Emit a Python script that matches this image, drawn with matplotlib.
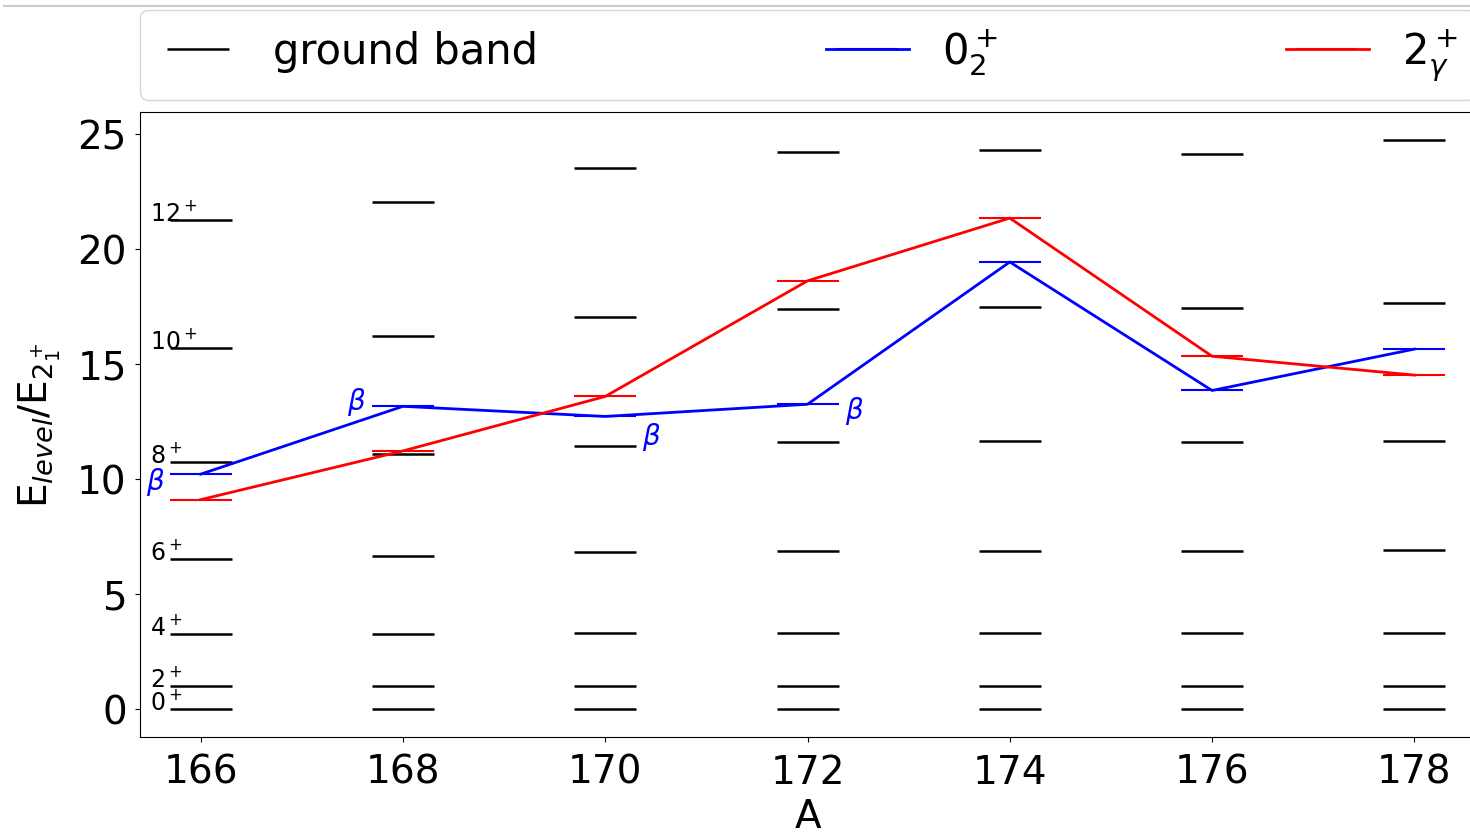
import matplotlib
matplotlib.use("Agg")
import matplotlib.pyplot as plt
from matplotlib.lines import Line2D

# Mass numbers of the isotopic chain
mass_numbers = [166, 168, 170, 172, 174, 176, 178]

# Spin labels of the ground-band members
spins = ["0", "2", "4", "6", "8", "10", "12"]

# Ground-band level energies, normalised to E(2+_1), one list per isotope
ground_166 = [0.0, 1.0, 3.23, 6.51, 10.72, 15.67, 21.24]
ground_168 = [0.0, 1.0, 3.25, 6.66, 11.08, 16.23, 22.04]
ground_170 = [0.0, 1.0, 3.28, 6.80, 11.41, 17.04, 23.54]
ground_172 = [0.0, 1.0, 3.30, 6.85, 11.58, 17.39, 24.21]
ground_174 = [0.0, 1.0, 3.30, 6.86, 11.63, 17.46, 24.32]
ground_176 = [0.0, 1.0, 3.30, 6.86, 11.61, 17.41, 24.14]
ground_178 = [0.0, 1.0, 3.30, 6.88, 11.66, 17.64, 24.72]
ground_band = [ground_166, ground_168, ground_170, ground_172,
               ground_174, ground_176, ground_178]

# Second 0+ and gamma-band head energies
zero_2 = [10.20, 13.15, 12.71, 13.24, 19.43, 13.84, 15.64]
two_gamma = [9.09, 11.21, 13.58, 18.61, 21.34, 15.33, 14.51]

# Isotopes whose 0+_2 state is tagged as a beta vibration
beta_tagged = [166, 168, 170, 172]

plt.rcParams["font.family"] = "DejaVu Sans"

fig = plt.figure(figsize=(14.7, 8.37), dpi=100)
# the axes reach just past the right edge of the canvas
ax = fig.add_axes([140 / 1470, 99 / 837, 1335 / 1470, 625 / 837])
ax.spines["right"].set_visible(False)

bar_ms = 44  # level bar width in points

# ground band: one short bar per level
for i, (a, levels) in enumerate(zip(mass_numbers, ground_band)):
    ax.plot([a] * len(levels), levels, linestyle="none", marker="_",
            markersize=bar_ms, markeredgewidth=1.8, color="black",
            label="ground band" if i == 0 else None)

ax.plot(mass_numbers, zero_2, color="blue", lw=2, marker="_",
        markersize=bar_ms, markeredgewidth=1.5, label=r"$0^+_\mathit{2}$")
ax.plot(mass_numbers, two_gamma, color="red", lw=2, marker="_",
        markersize=bar_ms, markeredgewidth=1.5, label=r"$2^+_\gamma$")

# spin labels next to the first isotope
for j, e in zip(spins, ground_166):
    ax.text(mass_numbers[0] - 0.5, e, rf"${j}^+$", fontsize=17,
            ha="left", va="baseline")

# beta labels: (dx, dy) offsets from the 0+_2 bar
beta_offsets = [(-0.45, -0.28), (-0.46, 0.24), (0.46, -0.83), (0.46, -0.23)]
for a, (dx, dy) in zip(beta_tagged, beta_offsets):
    e = zero_2[mass_numbers.index(a)]
    ax.text(a + dx, e + dy, r"$\beta$", color="blue", fontsize=20,
            ha="center", va="center")

ax.set_xlim(165.4, 178.6)
ax.set_xticks(mass_numbers)
ax.tick_params(labelsize=28)
ax.tick_params(axis="x", pad=8)
ax.tick_params(axis="y", pad=6)
ax.set_xlabel("A", fontsize=28, labelpad=4)
ax.set_ylabel(r"E$_{level}$/E$_{2_1^+}$", fontsize=28, labelpad=10)

ax.legend(loc="lower left", bbox_to_anchor=(0.0, 1.02, 1.0, 0.1),
          mode="expand", ncol=3, fontsize=30, borderaxespad=0.0)

# thin rule along the very top of the canvas
fig.add_artist(Line2D([0.003, 1.0], [1 - 7 / 837, 1 - 7 / 837],
                      transform=fig.transFigure, color="#cccccc", lw=1.5))

fig.savefig("out.png", dpi=100)
